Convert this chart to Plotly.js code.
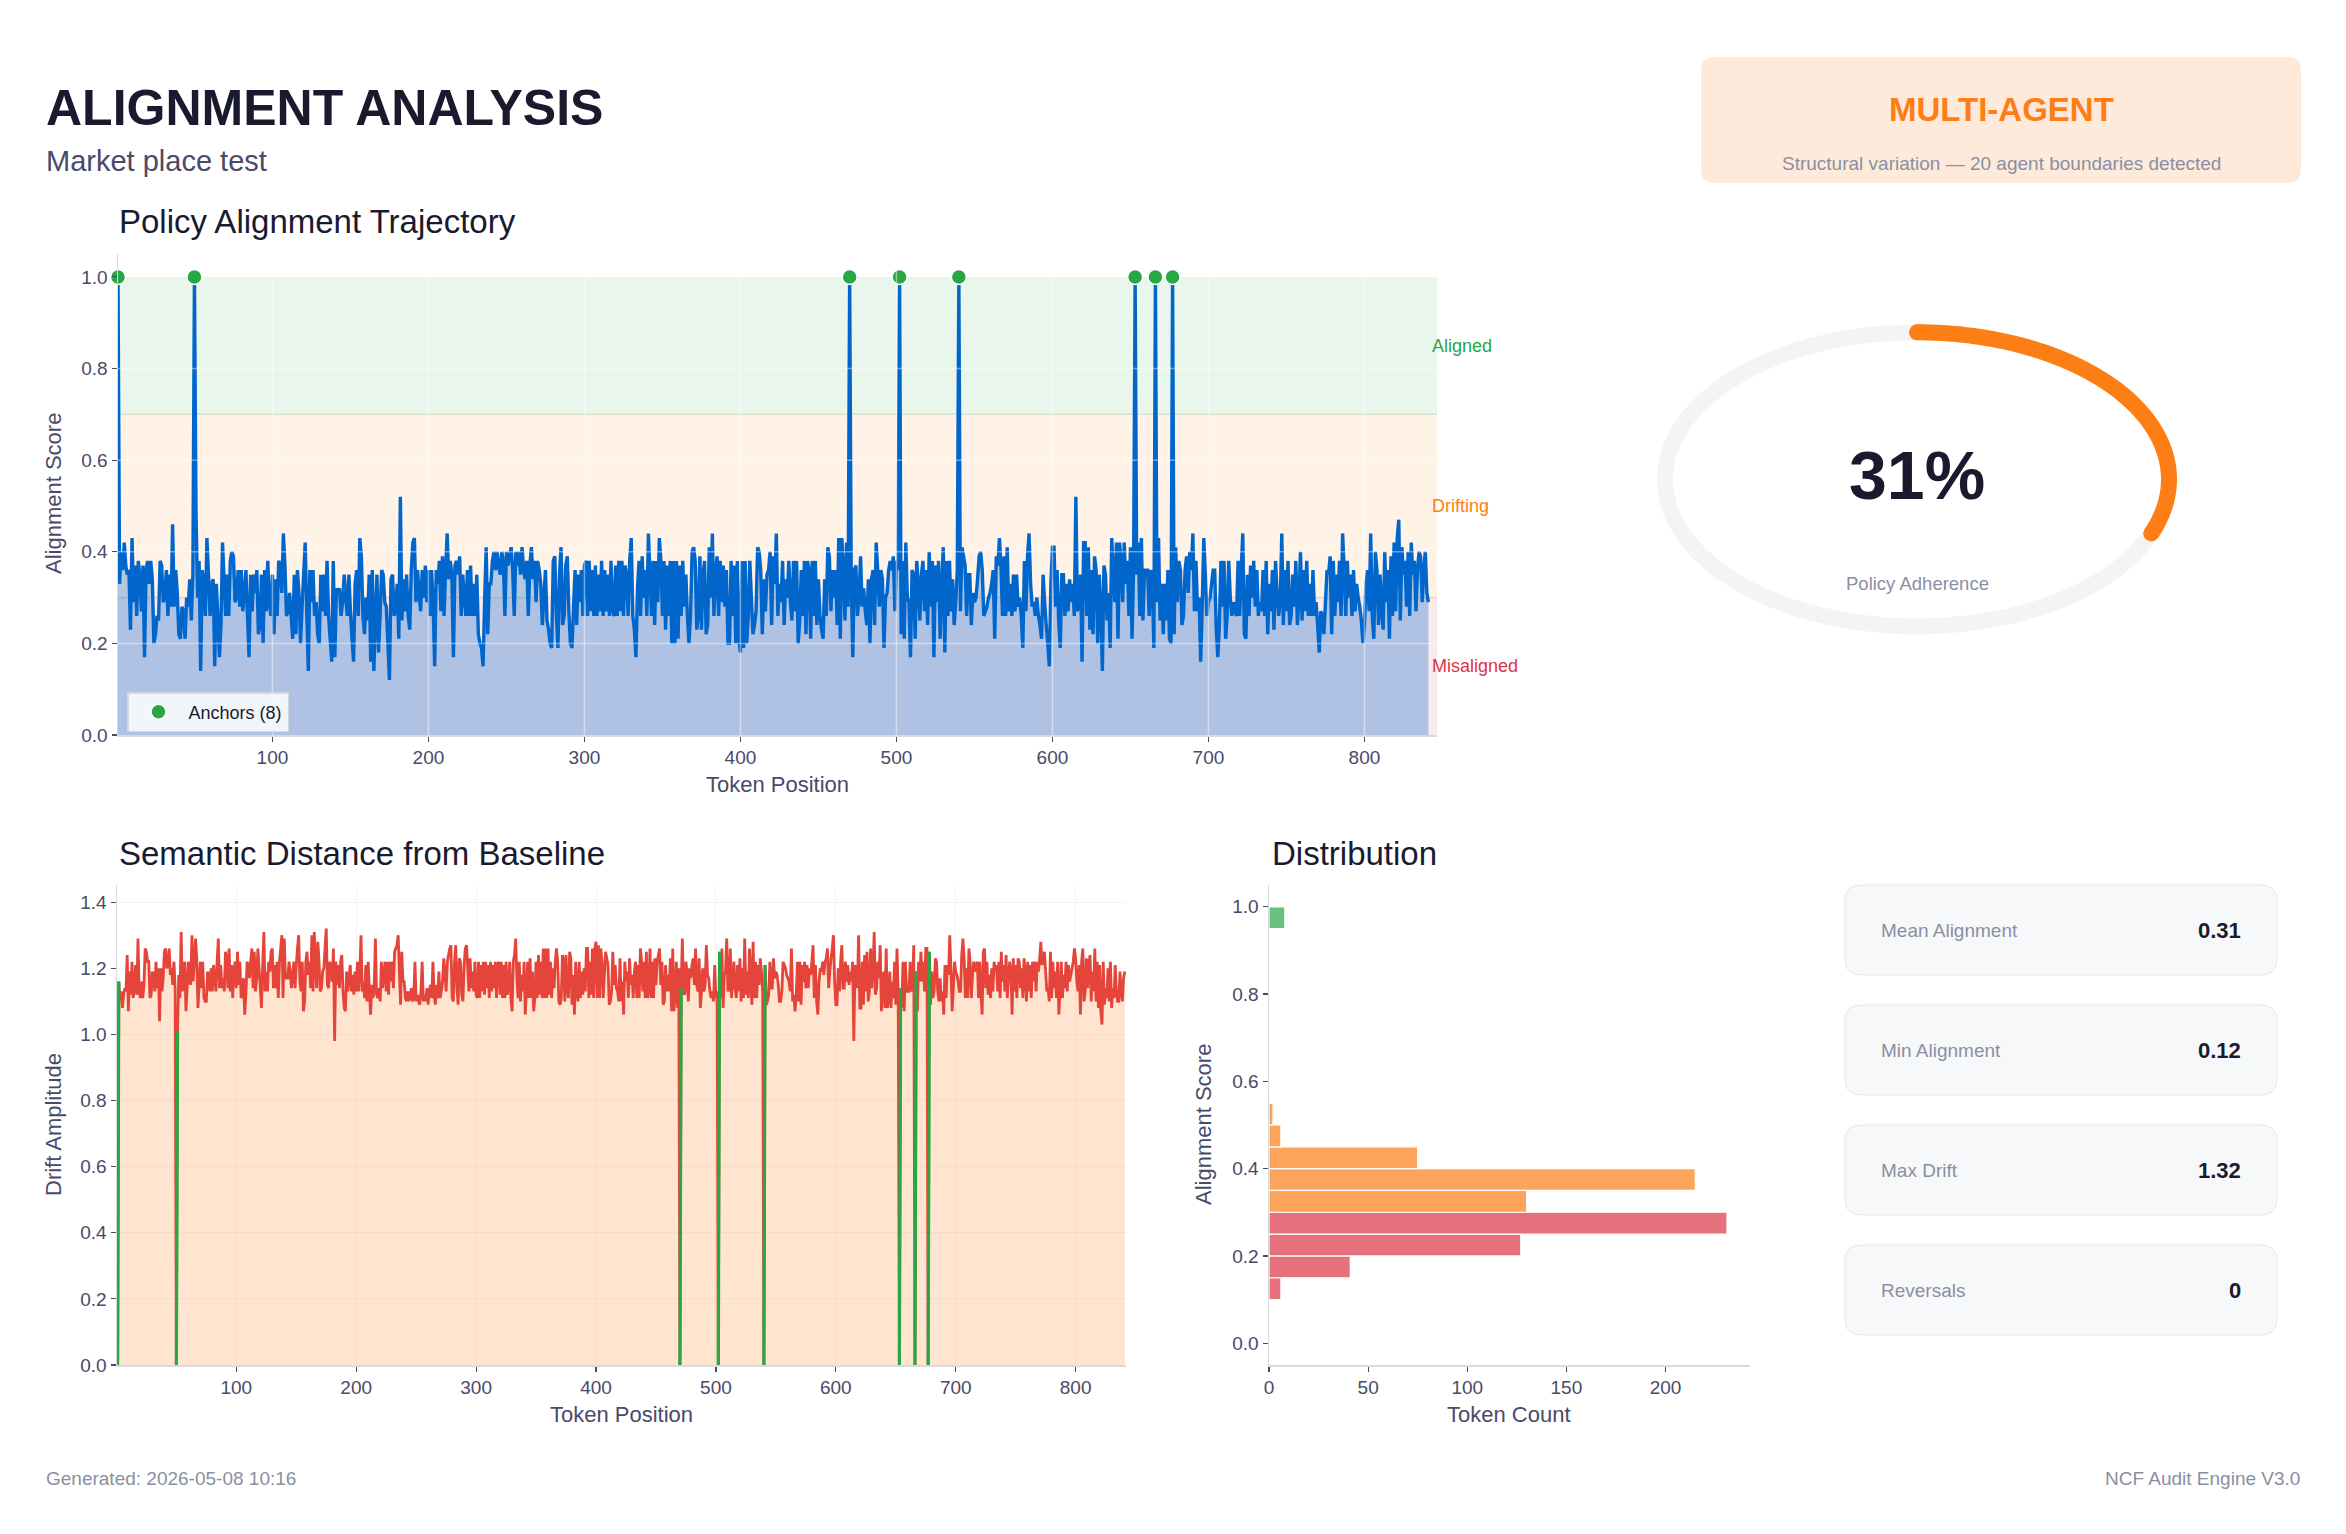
<!DOCTYPE html>
<html><head><meta charset="utf-8">
<script src="https://cdn.plot.ly/plotly-3.0.1.min.js"></script>
<style>html,body{margin:0;padding:0;background:#fff;}#chart{width:2346px;height:1534px;}</style>
</head><body><div id="chart"></div>
<script>
// ---------------- DATA ----------------
const anchorTokens = [1,50,470,502,540,653,666,677];

const alignment = [
1,.33,.40,.36,.42,.37,.35,.36,.23,.43,.29,.37,.26,.38,.35,.27,.37,.17,.36,.38,
.33,.38,.34,.20,.22,.26,.25,.38,.37,.29,.30,.36,.26,.35,.28,.46,.28,.36,.31,.22,
.21,.28,.27,.21,.30,.28,.34,.25,.35,1,.49,.30,.38,.14,.36,.33,.26,.43,.35,.26,
.33,.34,.15,.33,.26,.17,.24,.42,.34,.26,.35,.26,.38,.40,.39,.29,.30,.36,.28,.36,
.27,.31,.36,.26,.17,.35,.27,.35,.31,.36,.22,.24,.35,.20,.36,.27,.38,.29,.26,.35,
.22,.34,.26,.38,.37,.31,.44,.37,.26,.27,.31,.26,.21,.35,.22,.36,.31,.20,.28,.35,
.42,.27,.14,.36,.29,.36,.26,.29,.22,.20,.35,.27,.35,.26,.38,.26,.21,.16,.38,.17,
.32,.31,.32,.26,.29,.35,.30,.26,.35,.27,.21,.16,.33,.36,.26,.43,.39,.26,.22,.30,
.25,.35,.16,.36,.14,.26,.35,.18,.26,.36,.35,.29,.28,.20,.12,.34,.35,.26,.28,.33,
.21,.52,.25,.34,.27,.35,.26,.23,.36,.42,.43,.29,.36,.31,.27,.36,.30,.37,.29,.36,
.26,.36,.29,.15,.36,.33,.38,.27,.39,.26,.36,.44,.34,.38,.35,.17,.37,.38,.35,.39,
.26,.35,.30,.26,.36,.26,.37,.26,.33,.26,.35,.22,.20,.19,.15,.29,.41,.22,.33,.33,
.38,.40,.36,.40,.37,.35,.40,.38,.26,.40,.37,.39,.41,.36,.26,.40,.37,.40,.35,.41,
.36,.34,.38,.26,.37,.41,.34,.38,.29,.38,.36,.33,.24,.30,.36,.25,.23,.20,.19,.38,
.39,.26,.19,.35,.41,.24,.26,.37,.39,.27,.20,.19,.28,.36,.24,.35,.29,.36,.26,.37,
.38,.26,.38,.27,.36,.26,.37,.26,.35,.27,.38,.26,.36,.27,.35,.26,.38,.27,.26,.37,
.26,.38,.27,.38,.26,.37,.35,.26,.38,.43,.26,.23,.17,.32,.38,.26,.39,.30,.36,.26,
.44,.35,.26,.38,.24,.38,.29,.43,.38,.26,.38,.23,.37,.26,.38,.20,.38,.20,.38,.21,
.37,.26,.38,.28,.35,.26,.20,.26,.40,.41,.38,.23,.26,.39,.23,.35,.38,.22,.24,.41,
.30,.44,.26,.35,.39,.26,.38,.29,.37,.28,.36,.20,.20,.38,.26,.37,.20,.38,.21,.18,
.38,.19,.38,.20,.26,.38,.30,.22,.24,.27,.41,.40,.36,.22,.34,.27,.35,.36,.40,.24,
.39,.33,.44,.26,.33,.29,.38,.24,.34,.30,.38,.29,.25,.38,.27,.38,.20,.25,.36,.26,
.38,.22,.38,.36,.21,.38,.26,.38,.24,.34,.26,.23,.21,.34,.26,.41,.39,.27,.36,.30,
.36,.24,.43,.21,.43,.36,.25,.42,.28,1,.35,.17,.36,.37,.26,.30,.39,.28,.32,.27,
.24,.34,.20,.34,.36,.24,.42,.36,.28,.36,.34,.19,.30,.31,.36,.38,.36,.39,.27,.38,
.36,1,.22,.38,.21,.42,.30,.29,.17,.36,.35,.21,.38,.33,.25,.35,.38,.27,.36,.24,
.40,.28,.38,.17,.37,.29,.38,.21,.32,.41,.18,.38,.26,.38,.27,.34,.24,.29,.36,1,
.27,.41,.39,.37,.26,.35,.35,.24,.31,.29,.30,.34,.39,.40,.36,.26,.27,.28,.30,.31,
.33,.36,.21,.39,.37,.43,.37,.26,.39,.26,.41,.27,.33,.26,.35,.27,.35,.28,.30,.26,
.19,.38,.27,.39,.44,.33,.28,.29,.26,.30,.26,.24,.21,.35,.29,.24,.20,.15,.33,.41,
.41,.28,.36,.25,.19,.35,.35,.26,.33,.27,.34,.29,.33,.26,.52,.27,.30,.35,.16,.42,
.42,.26,.41,.23,.36,.22,.39,.36,.20,.35,.28,.14,.37,.35,.25,.31,.19,.43,.35,.29,
.42,.21,.42,.38,.29,.42,.33,.38,.26,.41,.21,.36,1,.35,.42,.26,.43,.25,.36,.36,
.36,.26,.36,.34,.19,1,.29,.43,.25,.33,.22,.33,.25,.36,.21,.20,1,.22,.41,.29,
.38,.36,.24,.26,.36,.39,.31,.40,.36,.44,.27,.38,.27,.30,.16,.28,.43,.35,.26,.29,
.30,.33,.36,.36,.23,.17,.24,.38,.28,.38,.21,.26,.38,.30,.26,.29,.27,.26,.38,.26,
.36,.44,.22,.21,.35,.26,.37,.30,.38,.28,.36,.26,.29,.27,.36,.26,.38,.22,.33,.27,
.36,.23,.38,.31,.26,.29,.44,.24,.36,.27,.38,.24,.26,.35,.28,.38,.24,.30,.40,.25,
.36,.27,.38,.26,.33,.26,.36,.26,.29,.24,.18,.27,.26,.22,.29,.36,.35,.39,.22,.38,
.26,.35,.29,.38,.26,.44,.36,.26,.38,.30,.35,.26,.36,.27,.33,.30,.28,.25,.20,.24,
.33,.36,.27,.44,.26,.21,.40,.36,.24,.35,.27,.23,.40,.29,.36,.21,.39,.26,.42,.27,
.43,.47,.25,.41,.35,.38,.28,.40,.26,.42,.35,.38,.27,.36,.40,.39,.29,.36,.40,.31,
.29
];

const drift = [
0,1.16,1.10,1.13,1.08,1.12,1.14,1.13,1.24,1.07,1.19,1.12,1.22,1.11,1.14,1.21,1.12,1.29,1.13,1.11,
1.16,1.11,1.15,1.26,1.25,1.22,1.22,1.11,1.12,1.19,1.18,1.13,1.22,1.14,1.20,1.04,1.20,1.13,1.17,1.25,
1.26,1.20,1.21,1.26,1.18,1.20,1.15,1.22,1.14,0,1.01,1.18,1.11,1.31,1.13,1.16,1.22,1.07,1.14,1.22,
1.16,1.15,1.30,1.16,1.22,1.29,1.23,1.08,1.15,1.22,1.14,1.22,1.11,1.10,1.10,1.19,1.18,1.13,1.20,1.13,
1.21,1.17,1.13,1.22,1.29,1.14,1.21,1.14,1.17,1.13,1.25,1.23,1.14,1.26,1.13,1.21,1.11,1.19,1.22,1.14,
1.25,1.15,1.22,1.11,1.12,1.17,1.06,1.12,1.22,1.21,1.17,1.22,1.26,1.14,1.25,1.13,1.17,1.26,1.20,1.14,
1.08,1.21,1.31,1.13,1.19,1.13,1.22,1.19,1.25,1.26,1.14,1.21,1.14,1.22,1.11,1.22,1.26,1.30,1.11,1.29,
1.17,1.17,1.17,1.22,1.19,1.14,1.18,1.22,1.14,1.21,1.26,1.30,1.16,1.13,1.22,1.07,1.10,1.22,1.25,1.18,
1.22,1.14,1.30,1.13,1.31,1.22,1.14,1.28,1.22,1.13,1.14,1.19,1.20,1.26,1.32,1.15,1.14,1.22,1.20,1.16,
1.26,0.98,1.22,1.15,1.21,1.14,1.22,1.24,1.13,1.08,1.07,1.19,1.13,1.17,1.21,1.13,1.18,1.12,1.19,1.13,
1.22,1.13,1.19,1.30,1.13,1.16,1.11,1.21,1.10,1.22,1.13,1.06,1.15,1.11,1.14,1.29,1.12,1.11,1.14,1.10,
1.22,1.14,1.18,1.22,1.13,1.22,1.12,1.22,1.16,1.22,1.14,1.25,1.26,1.27,1.30,1.19,1.09,1.25,1.16,1.16,
1.11,1.10,1.13,1.10,1.12,1.14,1.10,1.11,1.22,1.10,1.12,1.10,1.09,1.13,1.22,1.10,1.12,1.10,1.14,1.09,
1.13,1.15,1.11,1.22,1.12,1.09,1.15,1.11,1.19,1.11,1.13,1.16,1.23,1.18,1.13,1.22,1.24,1.26,1.27,1.11,
1.10,1.22,1.27,1.14,1.09,1.23,1.22,1.12,1.10,1.21,1.26,1.27,1.20,1.13,1.23,1.14,1.19,1.13,1.22,1.12,
1.11,1.22,1.11,1.21,1.13,1.22,1.12,1.22,1.14,1.21,1.11,1.22,1.13,1.21,1.14,1.22,1.11,1.21,1.22,1.12,
1.22,1.11,1.21,1.11,1.22,1.12,1.14,1.22,1.11,1.07,1.22,1.24,1.29,1.17,1.11,1.22,1.10,1.18,1.13,1.22,
1.06,1.14,1.22,1.11,1.23,1.11,1.19,1.07,1.11,1.22,1.11,1.24,1.12,1.22,1.11,1.26,1.11,1.26,1.11,1.26,
1.12,1.22,1.11,1.20,1.14,1.22,1.26,1.22,1.10,1.09,1.11,1.24,1.22,1.10,1.24,1.14,1.11,1.25,1.23,1.09,
1.18,1.06,1.22,1.14,1.10,1.22,1.11,1.19,1.12,1.20,1.13,1.26,1.26,1.11,1.22,1.12,1.26,1.11,1.26,1.28,
1.11,1.27,1.11,1.26,1.22,1.11,1.18,1.25,1.23,1.21,1.09,1.10,1.13,1.25,1.15,1.21,1.14,1.13,1.10,1.23,
1.10,1.16,1.06,1.22,1.16,1.19,1.11,1.23,1.15,1.18,1.11,1.19,1.22,1.11,1.21,1.11,1.26,1.22,1.13,1.22,
1.11,1.25,1.11,1.13,1.26,1.11,1.22,1.11,1.23,1.15,1.22,1.24,1.26,1.15,1.22,1.09,1.10,1.21,1.13,1.18,
1.13,1.23,1.07,1.26,1.07,1.13,1.22,1.08,1.20,0,1.14,1.29,1.13,1.12,1.22,1.18,1.10,1.20,1.17,1.21,
1.23,1.15,1.26,1.15,1.13,1.23,1.08,1.13,1.20,1.13,1.15,1.27,1.18,1.17,1.13,1.11,1.13,1.10,1.21,1.11,
1.13,0,1.25,1.11,1.26,1.08,1.18,1.19,1.29,1.13,1.14,1.26,1.11,1.16,1.22,1.14,1.11,1.21,1.13,1.23,
1.10,1.20,1.11,1.29,1.12,1.19,1.11,1.26,1.17,1.09,1.28,1.11,1.22,1.11,1.21,1.15,1.23,1.19,1.13,0,
1.21,1.09,1.10,1.12,1.22,1.14,1.14,1.23,1.17,1.19,1.18,1.15,1.10,1.10,1.13,1.22,1.21,1.20,1.18,1.17,
1.16,1.13,1.26,1.10,1.12,1.07,1.12,1.22,1.10,1.22,1.09,1.21,1.16,1.22,1.14,1.21,1.14,1.20,1.18,1.22,
1.27,1.11,1.21,1.10,1.06,1.16,1.20,1.19,1.22,1.18,1.22,1.23,1.26,1.14,1.19,1.23,1.26,1.30,1.16,1.09,
1.09,1.20,1.13,1.22,1.27,1.14,1.14,1.22,1.16,1.21,1.15,1.19,1.16,1.22,0.98,1.21,1.18,1.14,1.30,1.08,
1.08,1.22,1.09,1.24,1.13,1.25,1.10,1.13,1.26,1.14,1.20,1.31,1.12,1.14,1.22,1.17,1.27,1.07,1.14,1.19,
1.08,1.26,1.08,1.11,1.19,1.08,1.16,1.11,1.22,1.09,1.26,1.13,0,1.14,1.08,1.22,1.07,1.22,1.13,1.13,
1.13,1.22,1.13,1.15,1.27,0,1.19,1.07,1.22,1.16,1.25,1.16,1.22,1.13,1.26,1.26,0,1.25,1.09,1.19,
1.11,1.13,1.23,1.22,1.13,1.10,1.17,1.10,1.13,1.06,1.21,1.11,1.21,1.18,1.30,1.20,1.07,1.14,1.22,1.19,
1.18,1.16,1.13,1.13,1.24,1.29,1.23,1.11,1.20,1.11,1.26,1.22,1.11,1.18,1.22,1.19,1.21,1.22,1.11,1.22,
1.13,1.06,1.25,1.26,1.14,1.22,1.12,1.18,1.11,1.20,1.13,1.22,1.19,1.21,1.13,1.22,1.11,1.25,1.16,1.21,
1.13,1.24,1.11,1.17,1.22,1.19,1.06,1.23,1.13,1.21,1.11,1.23,1.22,1.14,1.20,1.11,1.23,1.18,1.10,1.22,
1.13,1.21,1.11,1.22,1.16,1.22,1.13,1.22,1.19,1.23,1.28,1.21,1.22,1.25,1.19,1.13,1.14,1.10,1.25,1.11,
1.22,1.14,1.19,1.11,1.22,1.06,1.13,1.22,1.11,1.18,1.14,1.22,1.13,1.21,1.16,1.18,1.20,1.22,1.26,1.23,
1.16,1.13,1.21,1.06,1.22,1.26,1.10,1.13,1.23,1.14,1.21,1.24,1.10,1.19,1.13,1.26,1.10,1.22,1.08,1.21,
1.07,1.03,1.22,1.09,1.14,1.11,1.20,1.10,1.22,1.08,1.14,1.11,1.21,1.13,1.10,1.10,1.19,1.13,1.10,1.17,
1.19
];

const zoneNames  = ['Aligned','Drifting','Misaligned'];
const zoneLow    = [0.7, 0.3, 0.0];
const zoneHigh   = [1.0, 0.7, 0.3];
const zoneColors = ['#28a745','#fd7e14','#dc3545'];
const zoneFills  = ['rgba(40,167,69,0.10)','rgba(253,126,20,0.10)','rgba(220,53,69,0.10)'];

const histBinStart = [0.10,0.15,0.20,0.25,0.30,0.35,0.40,0.45,0.50,0.95];
const histCounts   = [6,41,127,231,130,215,75,6,2,8];
const histBinWidth = 0.05;

const adherencePct = 31;

const statLabels = ['Mean Alignment','Min Alignment','Max Drift','Reversals'];
const statValues = ['0.31','0.12','1.32','0'];

const positionTicks = [100,200,300,400,500,600,700,800];
const scoreTicks = [0,0.2,0.4,0.6,0.8,1.0];
const driftTicks = [0,0.2,0.4,0.6,0.8,1.0,1.2,1.4];
const countTicks = [0,50,100,150,200];

// ---------------- LAYOUT HELPERS ----------------
const W = 2346, H = 1534;
const FONT = 'Liberation Sans, Arial, Helvetica, sans-serif';
const DARK = '#1a1a2e', AXT = '#4a4a68', MUTED = '#8a8fa3';
const px = v => v / W;
const py = v => 1 - v / H;

const tokens = alignment.map((_, i) => i + 1);

function rrPath(x0, y0, x1, y1, r) {
  const X = v => px(v).toFixed(5), Y = v => py(v).toFixed(5);
  return `M${X(x0+r)},${Y(y0)} L${X(x1-r)},${Y(y0)} Q${X(x1)},${Y(y0)} ${X(x1)},${Y(y0+r)} ` +
         `L${X(x1)},${Y(y1-r)} Q${X(x1)},${Y(y1)} ${X(x1-r)},${Y(y1)} L${X(x0+r)},${Y(y1)} ` +
         `Q${X(x0)},${Y(y1)} ${X(x0)},${Y(y1-r)} L${X(x0)},${Y(y0+r)} Q${X(x0)},${Y(y0)} ${X(x0+r)},${Y(y0)} Z`;
}

const axisBase = {
  showline: true, linecolor: '#d6dae1', linewidth: 1.5,
  ticks: 'outside', ticklen: 5, tickwidth: 1.2, tickcolor: AXT,
  tickfont: {size: 19, color: AXT, family: FONT},
  zeroline: false, showgrid: false, fixedrange: true
};

// ---------------- TRACES ----------------
const traces = [];

// Top: alignment trajectory
traces.push({
  type: 'scatter', mode: 'lines', x: tokens, y: alignment, xaxis: 'x', yaxis: 'y',
  line: {color: '#0066cc', width: 3.4, simplify: false},
  fill: 'tozeroy', fillcolor: 'rgba(0,102,204,0.30)', showlegend: false, hoverinfo: 'skip'
});
traces.push({
  type: 'scatter', mode: 'markers', name: 'Anchors (' + anchorTokens.length + ')',
  x: anchorTokens, y: anchorTokens.map(t => alignment[t - 1]), xaxis: 'x', yaxis: 'y',
  marker: {color: '#28a745', size: 15, line: {color: '#ffffff', width: 1.5}},
  cliponaxis: false, showlegend: true
});

// Bottom-left: drift
traces.push({
  type: 'scatter', mode: 'lines', x: tokens, y: drift, xaxis: 'x2', yaxis: 'y2',
  line: {color: '#e5443a', width: 2.8, simplify: false},
  fill: 'tozeroy', fillcolor: 'rgba(253,126,20,0.20)', showlegend: false, hoverinfo: 'skip'
});
const gx = [], gy = [];
anchorTokens.forEach(a => {
  gx.push(a, a + 1, null);
  gy.push(drift[a - 1], drift[a], null);
});
traces.push({
  type: 'scatter', mode: 'lines', x: gx, y: gy, xaxis: 'x2', yaxis: 'y2',
  line: {color: '#28a745', width: 3.2}, connectgaps: false, showlegend: false, hoverinfo: 'skip'
});

// Distribution histogram
function zoneIndex(v) { for (let i = 0; i < zoneLow.length; i++) if (v >= zoneLow[i]) return i; return zoneLow.length - 1; }
const barAlphaColors = ['rgba(40,167,69,0.7)','rgba(253,126,20,0.7)','rgba(220,53,69,0.7)'];
traces.push({
  type: 'bar', orientation: 'h', xaxis: 'x3', yaxis: 'y3',
  y: histBinStart.map(b => b + histBinWidth / 2), x: histCounts, width: histBinWidth,
  marker: {color: histBinStart.map(b => barAlphaColors[zoneIndex(b)]), line: {color: '#ffffff', width: 1.2}},
  showlegend: false, hoverinfo: 'skip'
});

// Gauge ring
const ringX = [], ringY = [];
for (let i = 0; i <= 360; i++) { const t = 2 * Math.PI * i / 360; ringX.push(Math.cos(t)); ringY.push(Math.sin(t)); }
traces.push({type: 'scatter', mode: 'lines', x: ringX, y: ringY, xaxis: 'x4', yaxis: 'y4',
  line: {color: '#f3f4f6', width: 16, simplify: false}, showlegend: false, hoverinfo: 'skip', cliponaxis: false});
const arcX = [], arcY = [];
const sweep = 2 * Math.PI * adherencePct / 100;
for (let i = 0; i <= 200; i++) { const t = Math.PI / 2 - sweep * i / 200; arcX.push(Math.cos(t)); arcY.push(Math.sin(t)); }
traces.push({type: 'scatter', mode: 'lines', x: arcX, y: arcY, xaxis: 'x4', yaxis: 'y4',
  line: {color: '#fd7e14', width: 16, simplify: false}, showlegend: false, hoverinfo: 'skip', cliponaxis: false});
traces.push({type: 'scatter', mode: 'markers', x: [arcX[0], arcX[arcX.length - 1]], y: [arcY[0], arcY[arcY.length - 1]],
  xaxis: 'x4', yaxis: 'y4', marker: {color: '#fd7e14', size: 16, line: {width: 0}}, showlegend: false, hoverinfo: 'skip', cliponaxis: false});

// ---------------- SHAPES ----------------
const shapes = [];
zoneNames.forEach((n, i) => {
  shapes.push({type: 'rect', xref: 'x domain', yref: 'y', x0: 0, x1: 1, y0: zoneLow[i], y1: zoneHigh[i],
    fillcolor: zoneFills[i], line: {width: 0}, layer: 'below'});
});
[0.7, 0.3].forEach((v, i) => {
  shapes.push({type: 'line', xref: 'x domain', yref: 'y', x0: 0, x1: 1, y0: v, y1: v,
    line: {color: i === 0 ? 'rgba(150,170,110,0.25)' : 'rgba(220,53,69,0.18)', width: 1.5}, layer: 'below'});
});
positionTicks.forEach(t => shapes.push({type: 'line', xref: 'x', yref: 'y domain', x0: t, x1: t, y0: 0, y1: 1,
  line: {color: 'rgba(255,255,255,0.45)', width: 1.5}, layer: 'above'}));
scoreTicks.slice(1, -1).forEach(v => shapes.push({type: 'line', xref: 'x domain', yref: 'y', x0: 0, x1: 1, y0: v, y1: v,
  line: {color: 'rgba(255,255,255,0.40)', width: 1.5}, layer: 'above'}));

// Header card
shapes.push({type: 'path', xref: 'paper', yref: 'paper', path: rrPath(1701, 57, 2301, 183, 14),
  fillcolor: '#fdeadb', line: {width: 0}, layer: 'below'});
// Stat cards
statLabels.forEach((l, i) => {
  const top = 885 + i * 120;
  shapes.push({type: 'path', xref: 'paper', yref: 'paper', path: rrPath(1845, top, 2277, top + 90, 16),
    fillcolor: '#f7f8fa', line: {color: '#e4e7ec', width: 1}, layer: 'below'});
});

// ---------------- ANNOTATIONS ----------------
const ann = [];
function txt(text, x, y, size, color, opts) {
  ann.push(Object.assign({text, x: px(x), y: py(y), xref: 'paper', yref: 'paper', showarrow: false,
    xanchor: 'left', yanchor: 'middle', font: {family: FONT, size, color}}, opts || {}));
}
txt('ALIGNMENT ANALYSIS', 44, 108, 50, DARK, {font: {family: FONT, size: 50, color: DARK, weight: 'bold'}});
txt('Market place test', 44, 161, 29, '#4a4a6a');
txt('Policy Alignment Trajectory', 117, 222, 33, DARK);
txt('Semantic Distance from Baseline', 117, 853, 33, DARK);
txt('Distribution', 1270, 853, 33, DARK);
txt('MULTI-AGENT', 2001, 109, 33, '#fd7e14', {xanchor: 'center', font: {family: FONT, size: 33, color: '#fd7e14', weight: 'bold'}});
txt('Structural variation \u2014 20 agent boundaries detected', 2001, 163, 19, MUTED, {xanchor: 'center'});
zoneNames.forEach((n, i) => {
  ann.push({text: n, xref: 'paper', yref: 'y', x: px(1430), y: (zoneLow[i] + zoneHigh[i]) / 2,
    xanchor: 'left', yanchor: 'middle', showarrow: false, font: {family: FONT, size: 18, color: zoneColors[i]}});
});
// axis titles
txt('Token Position', 777, 785, 22, AXT, {xanchor: 'center'});
txt('Alignment Score', 53, 494, 22, AXT, {xanchor: 'center', textangle: -90});
txt('Token Position', 621, 1414, 22, AXT, {xanchor: 'center'});
txt('Drift Amplitude', 53, 1125, 22, AXT, {xanchor: 'center', textangle: -90});
txt('Token Count', 1509, 1414, 22, AXT, {xanchor: 'center'});
txt('Alignment Score', 1203, 1125, 22, AXT, {xanchor: 'center', textangle: -90});
// gauge
txt(adherencePct + '%', 1917, 475, 68, DARK, {xanchor: 'center', font: {family: FONT, size: 68, color: DARK, weight: 'bold'}});
txt('Policy Adherence', 1917, 583, 18.5, MUTED, {xanchor: 'center'});
// stats
statLabels.forEach((l, i) => {
  const cy = 885 + i * 120 + 45;
  txt(l, 1879, cy, 19, MUTED);
  txt(statValues[i], 2243, cy, 22, DARK, {xanchor: 'right', font: {family: FONT, size: 22, color: DARK, weight: 'bold'}});
});
// footer
txt('Generated: 2026-05-08 10:16', 44, 1478, 19, MUTED);
txt('NCF Audit Engine V3.0', 2302, 1478, 19, MUTED, {xanchor: 'right'});

// ---------------- LAYOUT ----------------
const layout = {
  width: W, height: H, margin: {l: 0, r: 0, t: 0, b: 0},
  paper_bgcolor: '#ffffff', plot_bgcolor: 'rgba(0,0,0,0)',
  font: {family: FONT, color: AXT},
  showlegend: true,
  legend: {x: px(127), y: py(692), xanchor: 'left', yanchor: 'top',
    bgcolor: 'rgba(248,250,252,0.93)', bordercolor: '#d3d8df', borderwidth: 1.5,
    font: {family: FONT, size: 18, color: DARK}, itemwidth: 50},
  xaxis: Object.assign({}, axisBase, {domain: [px(118), px(1437)], range: [1, 846.5], anchor: 'y', tickvals: positionTicks}),
  yaxis: Object.assign({}, axisBase, {domain: [py(735), py(254)], range: [0, 1.05], anchor: 'x', tickvals: scoreTicks, tickformat: '.1f'}),
  xaxis2: Object.assign({}, axisBase, {domain: [px(117), px(1126)], range: [0.5, 842], anchor: 'y2', tickvals: positionTicks,
    showgrid: true, gridcolor: '#f3f3f5', gridwidth: 1}),
  yaxis2: Object.assign({}, axisBase, {domain: [py(1365), py(885)], range: [0, 1.452], anchor: 'x2', tickvals: driftTicks, tickformat: '.1f',
    showgrid: true, gridcolor: '#f3f3f5', gridwidth: 1}),
  xaxis3: Object.assign({}, axisBase, {domain: [px(1269), px(1750)], range: [0, 242.6], anchor: 'y3', tickvals: countTicks}),
  yaxis3: Object.assign({}, axisBase, {domain: [py(1365), py(885)], range: [-0.05, 1.05], anchor: 'x3', tickvals: scoreTicks, tickformat: '.1f'}),
  xaxis4: {domain: [0.69898, 0.93529], range: [-1.1, 1.1], visible: false, fixedrange: true, anchor: 'y4'},
  yaxis4: {domain: [0.58214, 0.79296], range: [-1.1, 1.1], visible: false, fixedrange: true, anchor: 'x4'},
  shapes: shapes,
  annotations: ann
};

Plotly.newPlot('chart', traces, layout, {displayModeBar: false, staticPlot: true});
</script>
</body></html>
